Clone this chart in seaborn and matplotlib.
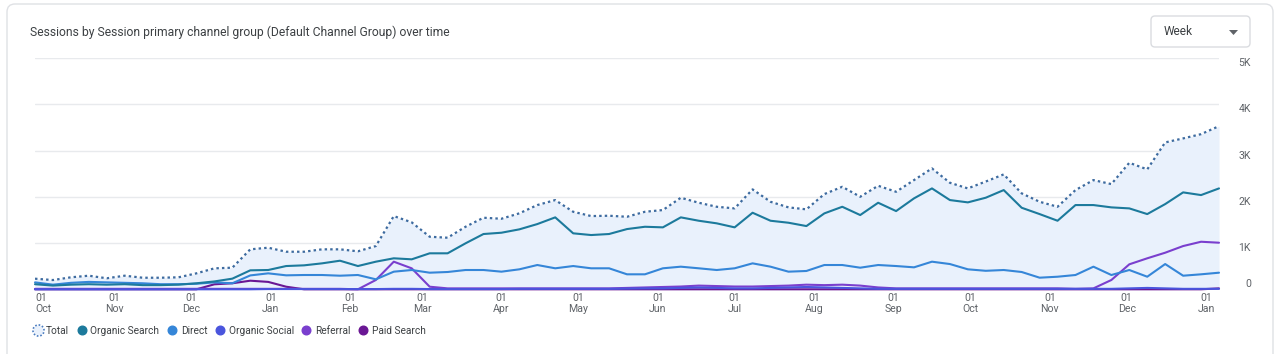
import numpy as np
import pandas as pd
import seaborn as sns
import matplotlib.pyplot as plt
from matplotlib.patches import FancyBboxPatch, Polygon
from matplotlib.lines import Line2D
from matplotlib.path import Path
from matplotlib.transforms import IdentityTransform

# weekly sessions, Oct 2022 -> Jan 2024
weeks = pd.date_range('2022-10-01', periods=67, freq='7D')

total = [229, 200, 259, 294, 238, 294, 250, 250, 259, 345,
         453, 467, 864, 899, 812, 812, 864, 864, 821, 935,
         1583, 1447, 1136, 1115, 1352, 1547, 1525, 1642, 1821, 1929,
         1676, 1583, 1590, 1568, 1676, 1713, 1979, 1871, 1784, 1749,
         2160, 1892, 1771, 1728, 2058, 2216, 2000, 2238, 2108, 2361,
         2613, 2303, 2181, 2330, 2484, 2074, 1892, 1784, 2145, 2361,
         2274, 2735, 2592, 3175, 3262, 3354, 3527]
organic_search = [110, 80, 100, 110, 100, 110, 90, 90, 100, 130,
                  170, 230, 410, 417, 503, 518, 561, 618, 503, 597,
                  670, 648, 778, 778, 994, 1195, 1223, 1296, 1410, 1555,
                  1210, 1173, 1195, 1302, 1352, 1339, 1555, 1482, 1426, 1339,
                  1655, 1482, 1439, 1367, 1641, 1784, 1605, 1871, 1691, 1966,
                  2181, 1929, 1879, 1980, 2145, 1763, 1626, 1482, 1821, 1821,
                  1771, 1749, 1626, 1842, 2095, 2037, 2181]
direct = [150, 100, 140, 160, 150, 140, 130, 110, 110, 120,
          150, 130, 300, 345, 302, 309, 309, 294, 309, 216,
          381, 417, 359, 374, 417, 417, 381, 432, 525, 454,
          503, 454, 454, 324, 324, 454, 489, 454, 417, 454,
          561, 489, 381, 396, 525, 525, 467, 525, 503, 475,
          597, 546, 432, 400, 417, 374, 251, 272, 309, 489,
          309, 417, 272, 546, 294, 324, 359]
organic_social = [0, 0, 0, 0, 0, 0, 0, 0, 0, 0,
                  0, 0, 0, 5, 5, 5, 5, 5, 5, 5,
                  10, 10, 5, 5, 5, 5, 5, 10, 10, 10,
                  10, 10, 10, 15, 20, 20, 30, 40, 30, 20,
                  20, 30, 40, 50, 40, 30, 20, 10, 10, 10,
                  10, 10, 10, 10, 10, 10, 10, 10, 10, 10,
                  10, 20, 30, 20, 10, 10, 10]
referral = [10, 10, 10, 10, 10, 10, 10, 10, 10, 10,
            10, 10, 10, 10, 10, 10, 10, 10, 0, 201,
            597, 453, 56, 20, 20, 20, 20, 20, 20, 20,
            20, 20, 20, 30, 40, 50, 60, 80, 70, 60,
            60, 70, 80, 100, 90, 100, 80, 40, 20, 20,
            20, 20, 20, 20, 20, 20, 20, 20, 10, 20,
            201, 540, 670, 791, 935, 1028, 1007]
paid_search = [0, 0, 0, 0, 0, 0, 0, 0, 0, 0,
               108, 130, 186, 160, 56, 0, 0, 0, 0, 0,
               0, 0, 0, 0, 0, 0, 0, 0, 0, 0,
               0, 0, 0, 0, 0, 0, 0, 0, 0, 0,
               0, 0, 0, 0, 0, 0, 0, 0, 0, 0,
               0, 0, 0, 0, 0, 0, 0, 0, 0, 0,
               0, 0, 0, 0, 0, 0, 20]

channels = ['Organic Search', 'Direct', 'Organic Social', 'Referral', 'Paid Search']
colors = ['#1c7a9c', '#3586d8', '#4a55dd', '#7a3fce', '#6a1794']
total_color = '#3d6ba0'
y_ticks = [0, 1000, 2000, 3000, 4000, 5000]
y_labels = ['0', '1K', '2K', '3K', '4K', '5K']
month_ticks = pd.date_range('2022-10-01', '2024-01-01', freq='MS')

sns.set_theme(style='white')
plt.rcParams['font.family'] = ['Roboto', 'DejaVu Sans']

W, H = 1280, 354
fig = plt.figure(figsize=(W / 100, H / 100), dpi=100)

# card frame and week selector (pixel coords)
card = FancyBboxPatch((7, -60), 1266, 410, boxstyle='round,pad=0,rounding_size=8',
                      transform=IdentityTransform(), facecolor='white',
                      edgecolor='#dfe1e5', lw=1, zorder=-5)
fig.patches.append(card)
box = FancyBboxPatch((1151, H - 47), 99, 31, boxstyle='round,pad=0,rounding_size=4',
                     transform=IdentityTransform(), facecolor='white',
                     edgecolor='#dadce0', lw=1)
fig.patches.append(box)
fig.patches.append(Polygon([(1229, H - 30), (1238, H - 30), (1233.5, H - 35)],
                           closed=True, transform=IdentityTransform(),
                           facecolor='#5f6368', edgecolor='none'))
fig.text(1164 / W, 1 - 31.5 / H, 'Week', va='center', ha='left', fontsize=8.6, color='#3c4043')
fig.text(30 / W, 1 - 32 / H, 'Sessions by Session primary channel group (Default Channel Group) over time',
         va='center', ha='left', fontsize=8.7, color='#3c4043')

ax = fig.add_axes([35 / W, 1 - 289.3 / H, (1219 - 35) / W, (289.3 - 58) / H])
ax.patch.set_alpha(0)

ax.fill_between(weeks, 0, total, color='#e9f1fc', lw=0, zorder=1)
series = [organic_search, direct, organic_social, referral, paid_search]
for name, vals, c in reversed(list(zip(channels, series, colors))):
    sns.lineplot(x=weeks, y=vals, ax=ax, color=c, lw=1.5, clip_on=False, zorder=3)
sns.lineplot(x=weeks, y=total, ax=ax, color=total_color, lw=1.6,
             linestyle=(0, (1.1, 1.4)), zorder=4)

ax.set_xlim(weeks[0], weeks[-1])
ax.set_ylim(0, 5000)
ax.set_xlabel('')
ax.set_ylabel('')
for s in ax.spines.values():
    s.set_visible(False)
ax.grid(axis='y', color='#e8eaed', lw=1)
ax.grid(axis='x', visible=False)

ax.yaxis.tick_right()
ax.set_yticks(y_ticks)
ax.set_yticklabels(y_labels)
ax.tick_params(axis='y', length=0, pad=23, labelsize=7.6, labelcolor='#5f6368')
for t, v in zip(ax.get_yticklabels(), y_ticks):
    t.set_ha('right')
    t.set_va('bottom' if v == 0 else 'top')

ax.set_xticks(month_ticks)
ax.set_xticklabels(['01\n' + d.strftime('%b') for d in month_ticks], linespacing=1.05)
ax.tick_params(axis='x', length=0, pad=3, labelsize=7.6, labelcolor='#5f6368')
ax.get_xticklabels()[0].set_ha('left')

# legend
ring = []
codes = []
for a0 in np.linspace(0, 2 * np.pi, 11)[:-1]:
    seg = np.linspace(a0, a0 + 0.3, 4)
    ring.extend(np.c_[np.cos(seg), np.sin(seg)])
    codes.extend([Path.MOVETO] + [Path.LINETO] * 3)
ring_path = Path(ring, codes)
total_handle = (Line2D([], [], marker='o', ls='', markersize=7, markerfacecolor='#e9f1fc',
                       markeredgecolor='none'),
                Line2D([], [], marker=ring_path, ls='', markersize=8, fillstyle='none',
                       markeredgecolor='#4a7cc0', markeredgewidth=1.2))
handles = [total_handle] + [Line2D([], [], marker='o', ls='', markersize=6.2, color=c) for c in colors]
labels = ['Total'] + channels
fig.legend(handles, labels, loc='center left', bbox_to_anchor=(33 / W, 1 - 331 / H),
           ncol=6, frameon=False, fontsize=7.3, handlelength=0.9, handletextpad=0.4,
           columnspacing=0.8, labelcolor='#3c4043', borderpad=0, borderaxespad=0)

fig.savefig('out.png', dpi=100)
